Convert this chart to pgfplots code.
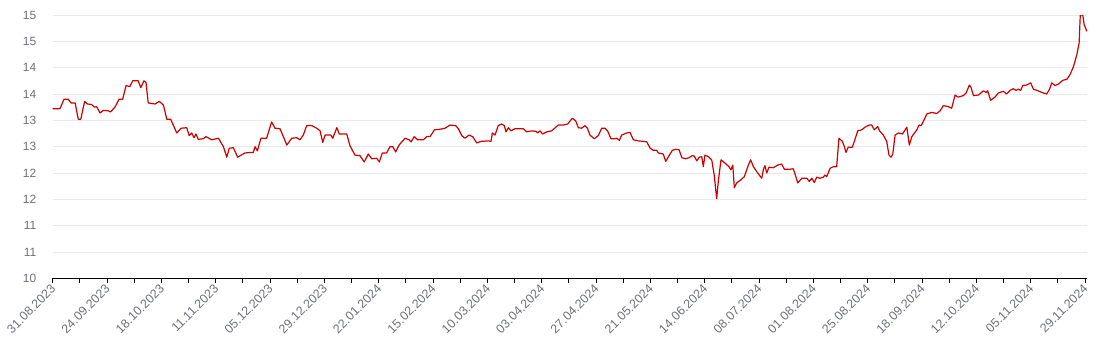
\documentclass[border=0pt]{standalone}
\usepackage{fontspec}
\setmainfont{Liberation Sans}
\usepackage{pgfplots}
\pgfplotsset{compat=1.18}
\definecolor{lineRed}{RGB}{204,0,0}
\definecolor{lbl}{RGB}{110,112,121}
\definecolor{grd}{RGB}{234,234,234}
\begin{document}
\begin{tikzpicture}
\useasboundingbox (-52.7bp,-76.7bp) rectangle (1049.3bp,278.3bp);
\begin{axis}[
  at={(0,0)}, anchor=south west,
  scale only axis, width=1034.6bp, height=263.3bp,
  xmin=0, xmax=457, ymin=10, ymax=15,
  axis x line=bottom, axis y line=left,
  x axis line style={-, black, line width=1.2bp},
  y axis line style={draw=none},
  xtick={0,24,...,456},
  xticklabels={31.08.2023,24.09.2023,18.10.2023,11.11.2023,05.12.2023,29.12.2023,22.01.2024,15.02.2024,10.03.2024,03.04.2024,27.04.2024,21.05.2024,14.06.2024,08.07.2024,01.08.2024,25.08.2024,18.09.2024,12.10.2024,05.11.2024,29.11.2024},
  minor xtick={12,36,...,444},
  ytick={10,10.5,...,15},
  yticklabels={10,11,11,12,12,13,13,14,14,15,15},
  tick align=outside,
  tick style={black, line width=1bp},
  ytick style={draw=none},
  xtick pos=bottom, ytick pos=left,
  major tick length=5bp, minor tick length=5bp,
  ymajorgrids, major grid style={grd, line width=0.8bp},
  xticklabel style={rotate=45, anchor=east, font=\fontsize{12.5}{14}\selectfont, text=lbl, inner sep=2bp, yshift=-3bp},
  yticklabel style={font=\fontsize{12}{14}\selectfont, text=lbl, xshift=-8bp},
  /pgf/number format/assume math mode=true,
  clip=true,
]
\addplot[lineRed, line width=1.2bp, line join=round] table {
x y
0 13.22
3.2 13.22
5.0 13.40
6.9 13.40
8.1 13.33
9.9 13.33
11.3 13.02
12.4 13.02
14.1 13.36
15.3 13.31
17.2 13.30
18.4 13.25
19.4 13.26
20.9 13.14
22.4 13.19
24.6 13.18
25.6 13.16
27.5 13.25
29.3 13.40
30.9 13.40
32.4 13.66
34.1 13.64
35.3 13.75
37.8 13.75
38.9 13.62
40.3 13.75
41.2 13.72
42.2 13.33
45.2 13.31
47.1 13.36
48.9 13.29
50.4 13.02
52.1 13.02
54.8 12.76
56.7 12.85
59.2 12.86
60.3 12.71
61.4 12.76
62.4 12.67
63.3 12.74
64.3 12.64
66.5 12.65
67.7 12.69
70.2 12.63
73.2 12.66
75.4 12.50
76.9 12.30
78.0 12.47
79.8 12.48
81.7 12.30
84.9 12.38
87.2 12.39
88.6 12.39
89.4 12.50
90.4 12.42
92.0 12.66
94.5 12.66
96.7 12.97
98.2 12.85
100.4 12.84
101.9 12.69
103.4 12.53
105.6 12.66
107.8 12.67
109.2 12.63
110.7 12.72
112.2 12.90
114.4 12.90
116.6 12.85
118.1 12.80
119.3 12.58
120.3 12.72
122.9 12.72
123.7 12.66
125.5 12.86
126.6 12.74
129.9 12.74
131.3 12.52
133.5 12.34
135.7 12.33
137.6 12.21
139.4 12.36
140.9 12.27
143.1 12.28
144.3 12.21
145.6 12.38
147.5 12.38
149.0 12.50
150.2 12.50
151.5 12.40
153.0 12.53
155.6 12.66
157.5 12.63
158.3 12.59
159.7 12.69
161.2 12.63
163.7 12.63
165.2 12.69
166.7 12.69
168.6 12.82
171.1 12.83
173.3 12.85
175.5 12.91
178.0 12.90
179.2 12.84
180.7 12.71
182.1 12.66
183.9 12.72
185.5 12.69
187.3 12.57
189.2 12.60
192.4 12.61
193.6 12.60
194.2 12.76
195.4 12.72
196.8 12.90
198.3 12.93
199.5 12.90
200.2 12.78
201.3 12.86
202.4 12.80
204.2 12.84
207.9 12.84
209.4 12.78
211.6 12.80
213.5 12.79
214.2 12.76
215.3 12.80
216.4 12.74
218.2 12.78
220.4 12.80
223.3 12.91
225.5 12.91
227.5 12.93
229.5 13.04
231.0 12.99
232.2 12.86
233.7 12.85
235.1 12.90
236.2 12.85
237.3 12.72
239.2 12.65
241.0 12.71
242.5 12.85
244.0 12.85
245.2 12.79
246.6 12.65
248.4 12.65
249.1 12.66
250.3 12.62
251.3 12.72
253.6 12.76
255.0 12.77
256.5 12.63
258.7 12.61
260.9 12.60
262.4 12.59
263.9 12.47
265.3 12.43
266.8 12.43
267.5 12.38
269.7 12.36
270.8 12.22
272.0 12.31
273.7 12.43
275.2 12.45
276.7 12.44
277.9 12.29
279.6 12.27
281.1 12.29
282.5 12.33
283.4 12.32
284.5 12.23
285.6 12.30
286.7 12.31
287.4 12.12
288.1 12.34
289.6 12.31
291.1 12.25
292.2 11.96
293.3 11.51
294.0 11.84
295.2 12.25
296.9 12.19
298.7 12.12
299.6 12.06
300.4 12.15
301.1 11.72
302.1 11.81
304.0 11.87
305.5 11.93
307.3 12.15
308.3 12.25
309.5 12.12
311.4 12.00
313.2 11.90
313.9 12.06
314.6 12.14
315.4 12.00
316.4 12.11
318.3 12.10
320.3 12.15
322.0 12.17
323.2 12.07
325.3 12.07
327.1 12.08
328.2 11.94
329.1 11.81
330.9 11.90
333.1 11.90
334.2 11.84
335.3 11.90
336.4 11.82
337.5 11.92
338.9 11.90
340.4 11.92
341.1 11.96
341.9 11.93
343.4 12.09
344.8 12.12
346.3 12.12
347.3 12.66
348.8 12.60
349.7 12.50
350.4 12.39
351.4 12.49
353.2 12.49
354.1 12.60
355.6 12.80
357.4 12.82
358.8 12.87
360.6 12.91
361.8 12.91
362.9 12.82
364.4 12.88
365.4 12.79
366.9 12.72
368.4 12.60
369.4 12.34
370.3 12.30
371.1 12.36
372.1 12.72
373.6 12.76
375.4 12.74
377.3 12.87
378.4 12.53
379.5 12.69
381.7 12.82
382.7 12.91
383.6 12.90
384.6 12.98
386.1 13.12
388.3 13.15
390.5 13.13
392.0 13.18
393.4 13.28
395.6 13.26
397.1 13.23
398.6 13.48
400.0 13.44
402.3 13.47
403.5 13.52
404.9 13.67
405.6 13.63
406.7 13.47
408.9 13.48
411.1 13.56
412.3 13.53
413.0 13.56
414.3 13.38
416.2 13.44
417.7 13.52
419.9 13.55
421.4 13.50
422.9 13.57
424.3 13.60
425.5 13.57
426.5 13.59
427.6 13.57
428.5 13.66
430.2 13.67
432.0 13.71
433.2 13.59
434.7 13.57
436.9 13.53
439.1 13.50
440.3 13.59
441.3 13.71
442.8 13.66
444.3 13.69
446.2 13.76
448.0 13.78
449.4 13.87
450.9 14.02
452.4 14.25
453.4 14.47
453.9 15.00
455.0 15.00
455.6 14.82
456.8 14.69
};
\end{axis}
\end{tikzpicture}
\end{document}
